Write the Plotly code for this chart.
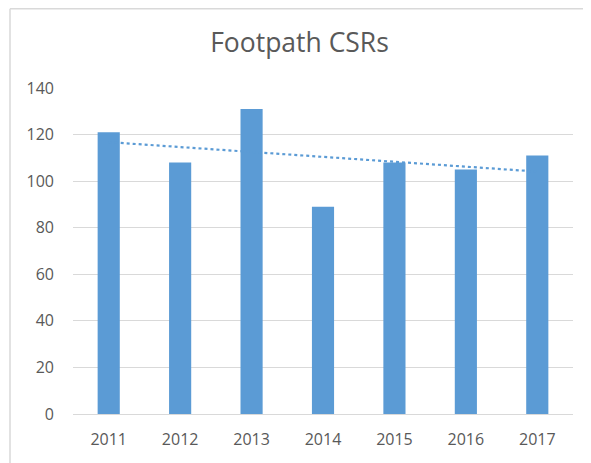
import numpy as np
import plotly.graph_objects as go

years = ["2011", "2012", "2013", "2014", "2015", "2016", "2017"]
csrs = [121, 108, 131, 89, 108, 105, 111]

BAR_BLUE = "#5b9bd5"
TEXT_GREY = "#595959"
GRID_GREY = "#d9d9d9"

# linear trendline, as Excel draws it over category index
idx = np.arange(len(years))
slope, intercept = np.polyfit(idx, csrs, 1)
trend = slope * idx + intercept

fig = go.Figure()

fig.add_trace(go.Bar(
    x=years, y=csrs,
    marker=dict(color=BAR_BLUE, line=dict(width=0)),
    name="Footpath CSRs",
))

fig.add_trace(go.Scatter(
    x=years, y=trend,
    mode="lines",
    line=dict(color=BAR_BLUE, width=2.2, dash="dot"),
    name="Linear trend",
))

# page body adds an 8px margin, so the figure is sized to fit the window
fig.update_layout(
    width=583, height=455,
    margin=dict(l=65, r=18, t=80, b=49),
    paper_bgcolor="white",
    plot_bgcolor="white",
    showlegend=False,
    bargap=0.69,
    font=dict(family="Open Sans", color=TEXT_GREY, size=16),
    title=dict(
        text="Footpath CSRs",
        x=0.5, xanchor="center",
        y=0.923, yanchor="middle",
        font=dict(family="Open Sans", size=26.5, color=TEXT_GREY),
    ),
    # chart-area frame: only its left and top edges fall inside the window
    shapes=[
        dict(type="line", xref="paper", yref="paper",
             x0=-0.126, x1=-0.126, y0=-0.5, y1=1.2433,
             line=dict(color=GRID_GREY, width=1.5), layer="below"),
        dict(type="line", xref="paper", yref="paper",
             x0=-0.126, x1=1.5, y0=1.2433, y1=1.2433,
             line=dict(color=GRID_GREY, width=1.5), layer="below"),
    ],
)

fig.update_xaxes(
    showgrid=False, showline=False, ticks="",
    ticklabelstandoff=14,
    tickfont=dict(size=16, color=TEXT_GREY),
)
fig.update_yaxes(
    range=[0, 140], dtick=20,
    showgrid=True, gridcolor=GRID_GREY, gridwidth=1.3,
    zeroline=True, zerolinecolor=GRID_GREY, zerolinewidth=1.3,
    showline=False, ticks="",
    ticklabelstandoff=18,
    tickfont=dict(size=16, color=TEXT_GREY),
)

fig.write_html("out.html")
